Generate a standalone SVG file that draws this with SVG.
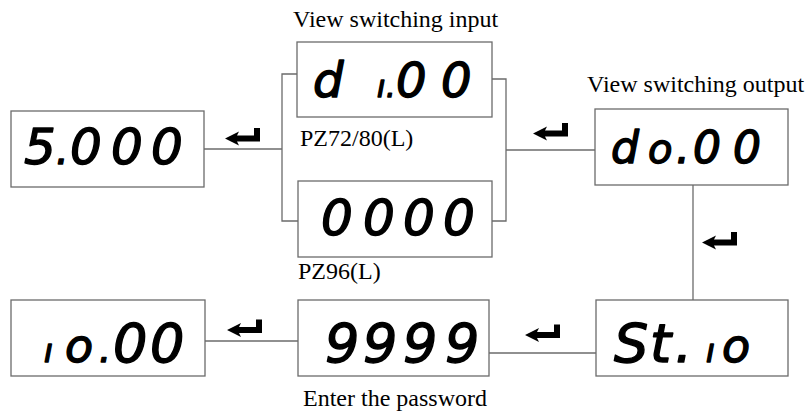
<svg xmlns="http://www.w3.org/2000/svg" xmlns:xlink="http://www.w3.org/1999/xlink" width="806" height="411" viewBox="0 0 806 411">
  <style>
    .box { fill: #ffffff; stroke: #6b6b6b; stroke-width: 1.3; }
    .wire { fill: none; stroke: #6b6b6b; stroke-width: 1.3; }
    .seg { font-family: "DejaVu Sans", "Liberation Sans", sans-serif; font-weight: normal; font-style: italic; fill: #000000; stroke: #000000; stroke-width: 1.4; stroke-linejoin: round; }
    .lbl { font-family: "Liberation Serif", "Times New Roman", serif; font-size: 24px; fill: #000000; }
    .enter { fill: #000000; }
  </style>
  <defs>
    <polygon id="enterKey" class="enter" points="0,0 14,-7 12,-3 29,-3 29,-10.5 35,-10.5 35,3 12,3 14,7"/>
  </defs>
  <rect width="806" height="411" fill="#ffffff"/>

  <g id="connectors">
    <path class="wire" d="M204,149 H282"/>
    <path class="wire" d="M297,74 H282 V221 H298"/>
    <path class="wire" d="M492,79 H506 V221 H492"/>
    <path class="wire" d="M506,150 H595"/>
    <path class="wire" d="M693,185 V300"/>
    <path class="wire" d="M596,353 H489"/>
    <path class="wire" d="M298,341 H205"/>
  </g>

  <g id="enter-arrows">
    <use xlink:href="#enterKey" href="#enterKey" transform="translate(225,138.5)"/>
    <use xlink:href="#enterKey" href="#enterKey" transform="translate(533,133.5)"/>
    <use xlink:href="#enterKey" href="#enterKey" transform="translate(702,242.5)"/>
    <use xlink:href="#enterKey" href="#enterKey" transform="translate(227,330)"/>
    <use xlink:href="#enterKey" href="#enterKey" transform="translate(525,335)"/>
  </g>

  <g id="node-5000">
    <rect class="box" x="11" y="111" width="193" height="76"/>
    <text class="seg" font-size="50" y="164"><tspan x="24">5</tspan><tspan x="56" font-size="40">.</tspan><tspan x="70">0</tspan><tspan x="111">0</tspan><tspan x="151">0</tspan></text>
  </g>

  <g id="node-di00">
    <text class="lbl" x="293" y="27" font-size="24.5">View switching input</text>
    <rect class="box" x="297" y="42" width="195" height="75"/>
    <text class="seg" font-size="48" y="97"><tspan x="313">d</tspan><tspan x="377" font-size="30">ı</tspan><tspan x="386" font-size="30">.</tspan><tspan x="396">0</tspan><tspan x="441">0</tspan></text>
    <text class="lbl" x="300" y="146">PZ72/80(L)</text>
  </g>

  <g id="node-0000">
    <rect class="box" x="298" y="181" width="194" height="76"/>
    <text class="seg" font-size="50" x="321 363 403 443" y="235">0000</text>
    <text class="lbl" x="298" y="279">PZ96(L)</text>
  </g>

  <g id="node-do00">
    <text class="lbl" x="587" y="92">View switching output</text>
    <rect class="box" x="595" y="109" width="193" height="76"/>
    <text class="seg" font-size="44" y="163"><tspan x="611">d</tspan><tspan x="648" font-size="40">o</tspan><tspan x="676">.</tspan><tspan x="693">0</tspan><tspan x="733">0</tspan></text>
  </g>

  <g id="node-st-io">
    <rect class="box" x="596" y="300" width="192" height="76"/>
    <text class="seg" font-size="54" y="362"><tspan x="614">S</tspan><tspan x="650">t</tspan><tspan x="675">.</tspan><tspan x="706" font-size="32">ı</tspan><tspan x="722" font-size="46">o</tspan></text>
  </g>

  <g id="node-9999">
    <rect class="box" x="298" y="300" width="191" height="76"/>
    <text class="seg" font-size="54" x="325 363 403 445" y="362">9999</text>
    <text class="lbl" x="303" y="406">Enter the password</text>
  </g>

  <g id="node-io00">
    <rect class="box" x="11" y="300" width="194" height="76"/>
    <text class="seg" font-size="54" y="362"><tspan x="44" font-size="32">ı</tspan><tspan x="65" font-size="46">o</tspan><tspan x="99" font-size="38">.</tspan><tspan x="113">0</tspan><tspan x="150">0</tspan></text>
  </g>
</svg>
